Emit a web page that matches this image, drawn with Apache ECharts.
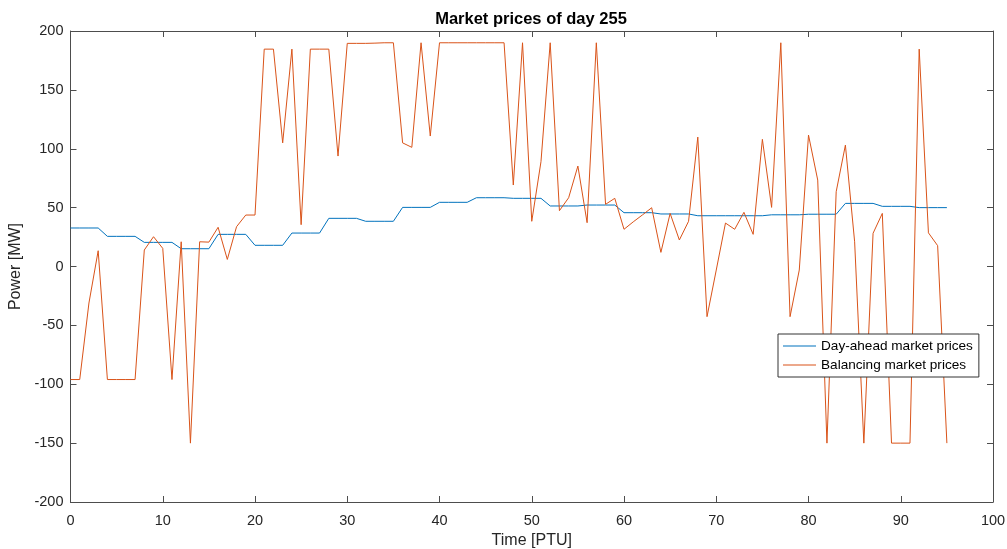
<!DOCTYPE html>
<html>
<head>
<meta charset="utf-8">
<script src="https://cdn.jsdelivr.net/npm/echarts@6/dist/echarts.min.js"></script>
<style>html,body{margin:0;padding:0;background:#fff;}#c{width:1007px;height:549px;}</style>
</head>
<body>
<div id="c"></div>
<script>
var titleText = 'Market prices of day 255';
var seriesNames = ['Day-ahead market prices', 'Balancing market prices'];
var xTicks = [0, 10, 20, 30, 40, 50, 60, 70, 80, 90, 100];
var yTicks = [-200, -150, -100, -50, 0, 50, 100, 150, 200];

var dayAhead = [
  32.7, 32.7, 32.7, 32.7, 25.6, 25.6, 25.6, 25.6, 20.5, 20.5, 20.5, 20.5,
  15.1, 15.1, 15.1, 15.1, 27.3, 27.3, 27.3, 27.3, 18, 18, 18, 18,
  28.4, 28.4, 28.4, 28.4, 40.9, 40.9, 40.9, 40.9, 38.4, 38.4, 38.4, 38.4,
  50.2, 50.2, 50.2, 50.2, 54.5, 54.5, 54.5, 54.5, 58.4, 58.4, 58.4, 58.4,
  57.9, 57.9, 57.9, 57.9, 51.4, 51.4, 51.4, 51.4, 52.2, 52.2, 52.2, 52.2,
  45.7, 45.7, 45.7, 45.7, 44.6, 44.6, 44.6, 44.6, 43.1, 43.1, 43.1, 43.1,
  43.1, 43.1, 43.1, 43.1, 43.9, 43.9, 43.9, 43.9, 44.4, 44.4, 44.4, 44.4,
  53.6, 53.6, 53.6, 53.6, 51.1, 51.1, 51.1, 51.1, 50, 50, 50, 50
];
var balancing = [
  -96, -96, -31, 13.4, -96, -96, -96, -96, 14, 25.3, 15.4, -96,
  21, -150, 21, 20.7, 33.3, 6, 33.8, 43.7, 43.7, 184.6, 184.6, 105,
  184.6, 35.5, 184.6, 184.6, 184.6, 93.8, 189.5, 189.5, 189.5, 189.7, 190, 190,
  105, 101.2, 190, 110.8, 190, 190, 190, 190, 190, 190, 190, 190,
  69.2, 190, 38.4, 89, 190, 47.4, 58.4, 85.3, 37.2, 190, 52.8, 57.9,
  31.6, 37.9, 43.8, 49.9, 12, 45.1, 22.5, 38.4, 109.9, -42.6, -3, 36.9,
  31.6, 46, 27.3, 108, 50.2, 190, -42.6, -3, 111.6, 73.4, -150, 63.5,
  103.1, 21, -150, 28.2, 45.1, -150, -150, -150, 184.6, 28.6, 17.7, -150
];

function pairs(arr) { return arr.map(function (v, i) { return [i, v]; }); }

var chart = echarts.init(document.getElementById('c'), null, { renderer: 'canvas' });
var axisColor = '#4d4d4d';
var labelColor = '#262626';
var font = 'Liberation Sans, Arial, Helvetica, sans-serif';

chart.setOption({
  animation: false,
  backgroundColor: '#ffffff',
  title: {
    text: titleText,
    left: 526, top: 6, textAlign: 'center',
    textStyle: { fontFamily: font, fontSize: 16.5, fontWeight: 'bold', color: '#000' }
  },
  legend: {
    data: seriesNames,
    orient: 'vertical',
    left: 778, top: 334,
    itemWidth: 33, itemHeight: 1,
    itemGap: 5,
    padding: [5, 6, 5, 5],
    borderColor: '#333', borderWidth: 1, backgroundColor: '#fff',
    textStyle: { fontFamily: font, fontSize: 13.6, color: '#000' },
    icon: 'rect'
  },
  grid: { left: 70.5, right: 14, top: 31, bottom: 47, containLabel: false, outerBoundsMode: 'none' },
  xAxis: [{
    type: 'value', min: 0, max: 100, interval: 10,
    name: 'Time [PTU]', nameLocation: 'middle', nameGap: 23,
    nameTextStyle: { fontFamily: font, fontSize: 16, color: labelColor },
    axisLine: { show: true, onZero: false, lineStyle: { color: axisColor, width: 1 } },
    axisTick: { show: true, inside: true, length: 6, lineStyle: { color: axisColor } },
    axisLabel: { fontFamily: font, fontSize: 14.5, color: labelColor, margin: 11 },
    splitLine: { show: false }
  }, {
    type: 'value', min: 0, max: 100, interval: 10, position: 'top',
    axisLine: { show: true, onZero: false, lineStyle: { color: axisColor, width: 1 } },
    axisTick: { show: true, inside: true, length: 6, lineStyle: { color: axisColor } },
    axisLabel: { show: false }, splitLine: { show: false }
  }],
  yAxis: [{
    type: 'value', min: -200, max: 200, interval: 50,
    name: 'Power [MW]', nameLocation: 'middle', nameGap: 39,
    nameTextStyle: { fontFamily: font, fontSize: 16, color: labelColor },
    axisLine: { show: true, onZero: false, lineStyle: { color: axisColor, width: 1 } },
    axisTick: { show: true, inside: true, length: 6, lineStyle: { color: axisColor } },
    axisLabel: { fontFamily: font, fontSize: 14.5, color: labelColor, margin: 7 },
    splitLine: { show: false }
  }, {
    type: 'value', min: -200, max: 200, interval: 50, position: 'right',
    axisLine: { show: true, onZero: false, lineStyle: { color: axisColor, width: 1 } },
    axisTick: { show: true, inside: true, length: 6, lineStyle: { color: axisColor } },
    axisLabel: { show: false }, splitLine: { show: false }
  }],
  series: [{
    name: seriesNames[0], type: 'line', data: pairs(dayAhead),
    xAxisIndex: 0, yAxisIndex: 0,
    showSymbol: false, symbol: 'none',
    lineStyle: { color: '#0072BD', width: 1 }, itemStyle: { color: '#0072BD' }
  }, {
    name: seriesNames[1], type: 'line', data: pairs(balancing),
    xAxisIndex: 0, yAxisIndex: 0,
    showSymbol: false, symbol: 'none',
    lineStyle: { color: '#D95319', width: 1 }, itemStyle: { color: '#D95319' }
  }]
});
</script>
</body>
</html>
